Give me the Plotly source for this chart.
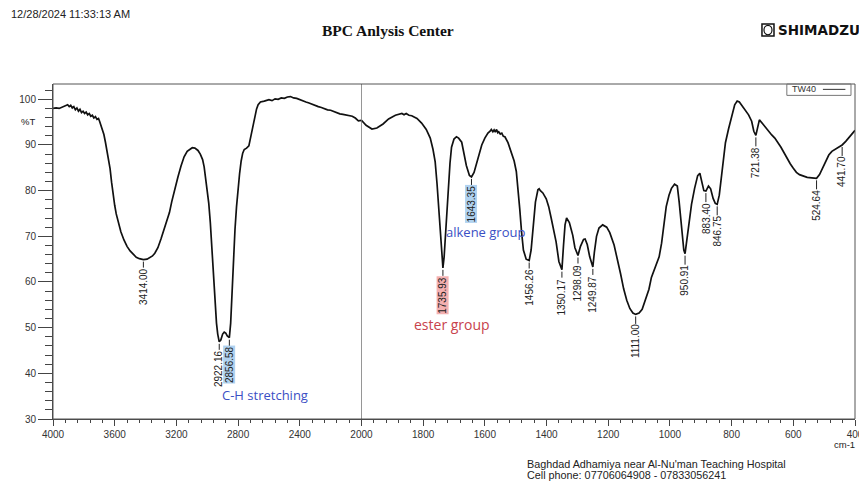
import plotly.graph_objects as go

# ---------------- spectrum (wavenumber in cm-1, transmittance in %T) ----------------
wavenumber = [
    4000, 3980, 3960, 3940, 3920, 3905, 3895, 3885, 3875, 3865, 3855, 3845, 3835, 3825,
    3815, 3805, 3795, 3785, 3775, 3765, 3755, 3745, 3735, 3725, 3715, 3705, 3698, 3690,
    3680, 3670, 3660, 3650, 3640, 3630, 3620, 3610, 3600, 3590, 3575, 3560, 3540, 3520,
    3500, 3480, 3460, 3440, 3414.00, 3390, 3370, 3355, 3340, 3320, 3300, 3280, 3260, 3245,
    3230, 3210, 3190, 3170, 3150, 3130, 3110, 3097, 3080, 3060, 3045, 3030, 3020, 3010,
    3000, 2990, 2980, 2970, 2960, 2950, 2940, 2932, 2922.16, 2912, 2900, 2890, 2880, 2870,
    2856.58, 2848, 2840, 2830, 2820, 2810, 2800, 2790, 2780, 2770, 2760, 2745, 2730, 2720,
    2710, 2700, 2690, 2680, 2670, 2655, 2630, 2600, 2580, 2560, 2540, 2520, 2500, 2480,
    2460, 2440, 2420, 2400, 2380, 2360, 2340, 2320, 2300, 2280, 2260, 2240, 2220, 2200,
    2180, 2160, 2140, 2120, 2100, 2080, 2060, 2040, 2020, 2000,
    1985, 1966, 1950, 1930, 1912, 1890, 1875, 1869, 1862, 1855, 1846, 1837, 1820, 1805,
    1790, 1777, 1768, 1761, 1755, 1750, 1745, 1740, 1735.93, 1732, 1728, 1723, 1718, 1713,
    1708, 1700, 1692, 1685, 1675, 1668, 1660, 1650, 1643.35, 1635, 1628, 1620, 1610, 1600,
    1590, 1583, 1579, 1574, 1570, 1566, 1562, 1558, 1555, 1550, 1545, 1540, 1535, 1525,
    1514, 1505, 1498, 1492, 1487, 1481, 1475, 1466, 1456.26, 1450, 1444, 1436, 1428, 1424,
    1420, 1412, 1401, 1393, 1385, 1377, 1369, 1360, 1350.17, 1345, 1340, 1335, 1330, 1326,
    1320, 1315, 1308, 1298.09, 1290, 1280, 1275, 1268, 1260, 1249.87, 1245, 1238, 1230,
    1218, 1205, 1195, 1181, 1170, 1160, 1150, 1140, 1130, 1120, 1111.00, 1100, 1090, 1080,
    1068, 1060, 1050, 1043, 1035, 1027, 1020, 1012, 1003, 995, 985, 976, 970, 962, 955,
    950.91, 945, 938, 930, 920, 910, 903, 897, 890, 883.40, 875, 868, 860, 853, 846.75,
    840, 835, 828, 820, 810, 800, 790, 782, 775, 765, 755, 745, 735, 728, 721.38, 716,
    710, 700, 690, 680, 670, 660, 650, 640, 630, 620, 610, 600, 590, 580, 568, 555, 540,
    524.64, 515, 505, 495, 485, 475, 465, 455, 441.70, 430, 420, 410, 400,
]
transmittance = [
    98.0, 98.1, 98.0, 98.3, 98.5, 98.8, 98.4, 98.7, 98.1, 98.4, 97.7, 98.1, 97.4, 97.8,
    97.1, 97.4, 96.9, 97.2, 96.6, 96.9, 96.3, 96.5, 95.9, 96.2, 95.6, 95.8, 95.2, 94.5,
    93.6, 92.3, 90.6, 88.8, 87.0, 84.8, 81.8, 79.0, 76.8, 74.9, 72.8, 71.0, 69.2, 67.8,
    66.8, 66.0, 65.4, 65.1, 64.9, 65.0, 65.3, 65.7, 66.3, 67.5, 69.4, 71.6, 73.5, 75.2,
    77.6, 80.6, 83.0, 85.4, 87.4, 88.6, 89.2, 89.4, 89.3, 88.8, 88.0, 86.8, 85.2, 82.5,
    79.6, 77.2, 73.0, 67.0, 60.5, 55.0, 51.0, 48.6, 46.9, 47.3, 48.6, 49.0, 48.8, 48.2,
    47.8, 51.0, 57.5, 65.5, 71.5, 76.5, 80.5, 83.8, 86.5, 88.2, 89.0, 89.3, 89.8, 91.5,
    93.3, 95.0, 96.6, 97.9, 98.8, 99.4, 99.6, 99.9, 99.7, 100.1, 100.0, 100.3, 100.2, 100.5,
    100.6, 100.3, 100.2, 99.9, 99.7, 99.4, 99.2, 98.9, 98.7, 98.4, 98.2, 97.9, 97.7, 97.6,
    97.3, 97.0, 96.8, 96.7, 96.6, 96.5, 96.3, 95.9, 95.3, 95.4,
    94.3, 93.5, 93.7, 94.6, 95.7, 96.5, 96.8, 96.9, 96.6, 96.9, 96.5, 96.4, 95.8, 94.8,
    93.4, 91.5, 89.0, 86.3, 81.5, 76.0, 70.5, 65.5, 63.1, 65.5, 70.0, 76.0, 81.2, 86.0,
    89.5, 91.3, 91.8, 91.5, 90.6, 88.3, 85.5, 83.3, 83.0, 84.0, 85.8, 88.0, 90.0, 91.5,
    92.6, 93.0, 93.4, 92.9, 93.3, 92.8, 93.4, 92.7, 92.9, 92.4, 92.6, 91.9, 91.8, 90.5,
    88.5, 86.5, 84.2, 80.5, 76.1, 71.0, 67.0, 65.0, 64.7, 67.0, 72.3, 77.5, 80.2, 80.4,
    80.0, 79.5, 78.2, 76.5, 74.0, 71.5, 68.8, 64.5, 62.7, 68.0, 72.5, 74.0, 73.5, 73.0,
    71.5, 70.2, 67.5, 65.8, 67.8, 69.3, 69.4, 68.2, 65.5, 63.3, 66.5, 70.0, 71.8,
    72.5, 72.0, 70.8, 68.1, 65.0, 61.8, 58.5, 56.0, 54.2, 53.2, 52.9, 53.2, 54.0, 55.8,
    58.4, 61.0, 62.8, 63.6, 65.5, 68.5, 72.5, 76.5, 79.0, 80.5, 81.4, 81.0, 77.5, 71.5, 67.0,
    66.2, 69.5, 73.5, 77.0, 80.5, 83.3, 83.8, 82.0, 80.0, 79.9, 81.0, 80.4, 78.3, 77.2, 77.0,
    79.0, 82.0, 86.8, 90.5, 93.5, 96.5, 98.8, 99.6, 99.4, 98.5, 97.5, 96.6, 95.2, 93.0, 92.1, 94.0,
    95.5, 94.7, 93.8, 93.0, 92.2, 91.5, 90.6, 89.5, 88.3, 87.0, 85.9, 84.9, 84.0, 83.5, 83.2, 82.9, 82.8,
    82.7, 83.5, 85.0, 86.5, 87.8, 88.6, 89.0, 89.5, 90.0, 90.8, 91.6, 92.5, 93.2,
]

# picked peaks
peak_wn = [3414.00, 2922.16, 2856.58, 1735.93, 1643.35, 1456.26, 1350.17, 1298.09,
           1249.87, 1111.00, 950.91, 883.40, 846.75, 721.38, 524.64, 441.70]
peak_text = ["3414.00", "2922.16", "2856.58", "1735.93", "1643.35", "1456.26", "1350.17",
             "1298.09", "1249.87", "1111.00", "950.91", "883.40", "846.75", "721.38",
             "524.64", "441.70"]
peak_highlight = {"2856.58": "rgba(150,195,235,0.75)",
                  "1643.35": "rgba(150,195,235,0.75)",
                  "1735.93": "rgba(240,150,150,0.75)"}

# functional group notes: text, wavenumber, %T
group_text = ["C-H stretching", "alkene group", "ester group"]
group_wn = [2625, 1598, 1708]
group_t = [35.3, 71.0, 50.6]
group_color = ["#3b4fc4", "#3b4fc4", "#c8424c"]
group_size = [13, 13, 14]

y_ticks = [30, 40, 50, 60, 70, 80, 90, 100]
x_ticks_high = [4000, 3600, 3200, 2800, 2400, 2000]
x_ticks_low = [1800, 1600, 1400, 1200, 1000, 800, 600, 400]

BREAK = 2000
split = 2000.0 / (2000.0 + 2 * 1600.0)   # region below 2000 cm-1 is drawn at double scale

hi = [(w, t) for w, t in zip(wavenumber, transmittance) if w >= BREAK]
lo = [(w, t) for w, t in zip(wavenumber, transmittance) if w <= BREAK]

fig = go.Figure()
line_style = dict(color="#111111", width=1.7)
fig.add_trace(go.Scatter(x=[p[0] for p in hi], y=[p[1] for p in hi], mode="lines",
                         line=line_style, xaxis="x", yaxis="y", showlegend=False,
                         name="TW40"))
fig.add_trace(go.Scatter(x=[p[0] for p in lo], y=[p[1] for p in lo], mode="lines",
                         line=line_style, xaxis="x2", yaxis="y", showlegend=False,
                         name="TW40"))

tickfont = dict(family="Liberation Sans, Arial, sans-serif", size=10, color="#333333")
axis_common = dict(showgrid=False, zeroline=False, showline=True, linecolor="#444444",
                   linewidth=1, ticks="outside", ticklen=6, tickcolor="#444444",
                   tickfont=tickfont, anchor="y", automargin=False,
                   ticklabeloverflow="allow")

annotations = []
lookup = dict(zip(wavenumber, transmittance))
for w, txt in zip(peak_wn, peak_text):
    annotations.append(dict(
        x=w, y=lookup[w], xref="x" if w >= BREAK else "x2", yref="y",
        text=txt, textangle=-90, showarrow=True, arrowhead=0, arrowwidth=1,
        arrowcolor="#222222", ax=0, ay=27, standoff=2,
        bgcolor=peak_highlight.get(txt, "rgba(0,0,0,0)"), borderpad=0,
        font=dict(family="Liberation Sans Narrow, Arial Narrow, Liberation Sans, sans-serif",
                  size=10, color="#222222"),
    ))
for txt, w, t, c, s in zip(group_text, group_wn, group_t, group_color, group_size):
    annotations.append(dict(
        x=w, y=t, xref="x" if w >= BREAK else "x2", yref="y", text=txt, showarrow=False,
        font=dict(family="Open Sans, Noto Sans, sans-serif", size=s, color=c, weight=500),
    ))

# header, axis captions and footer
def ptext(txt, x, y, size, xanchor="left", family="Liberation Sans, Arial, sans-serif",
          color="#222222"):
    return dict(text=txt, x=x, y=y, xref="paper", yref="paper", xanchor=xanchor,
                yanchor="middle", showarrow=False, font=dict(family=family, size=size,
                                                             color=color))

annotations += [
    ptext("12/28/2024 11:33:13 AM", -0.0545, 1.209, 11),
    ptext("<b>BPC Anlysis Center</b>", 0.4177, 1.161, 15.5, xanchor="center",
          family="Liberation Serif, Times New Roman, serif", color="#111111"),
    ptext("<b>SHIMADZU</b>", 0.9015, 1.161, 13.5, family="DejaVu Sans, sans-serif",
          color="#111111"),
    ptext("%T", -0.031, 0.888, 9.5, xanchor="center"),
    ptext("cm-1", 0.9865, -0.076, 9.5, xanchor="center"),
    ptext("Baghdad Adhamiya near Al-Nu'man Teaching Hospital", 0.5885, -0.134, 10.8),
    ptext("Cell phone: 07706064908 - 07833056241", 0.5885, -0.168, 10.8),
    ptext("TW40", 0.9185, 0.985, 9, color="#333333"),
]

shapes = [
    # plot frame
    dict(type="rect", xref="paper", yref="paper", x0=0, x1=1, y0=0, y1=1,
         line=dict(color="#555555", width=1)),
    # scale break at 2000 cm-1
    dict(type="line", xref="x2", yref="paper", x0=BREAK, x1=BREAK, y0=0, y1=1,
         line=dict(color="#333333", width=1)),
    # legend box and sample line
    dict(type="rect", xref="paper", yref="paper", x0=0.915, x1=0.995, y0=0.966, y1=1.0,
         line=dict(color="#777777", width=1)),
    dict(type="line", xref="paper", yref="paper", x0=0.960, x1=0.988, y0=0.984, y1=0.984,
         line=dict(color="#333333", width=1)),
    # logo mark
    dict(type="rect", xref="paper", yref="paper", x0=0.884, x1=0.899, y0=1.143, y1=1.179,
         line=dict(color="#111111", width=1.5)),
    dict(type="circle", xref="paper", yref="paper", x0=0.8865, x1=0.8965, y0=1.147,
         y1=1.175, line=dict(color="#111111", width=1.2)),
]

fig.update_layout(
    width=859, height=481,
    margin=dict(l=53, r=4, t=84, b=62),
    paper_bgcolor="white", plot_bgcolor="white",
    xaxis=dict(domain=[0, split], range=[4000, BREAK], tickvals=x_ticks_high,
               minor=dict(dtick=80, ticks="outside", ticklen=3, tickcolor="#444444"),
               **axis_common),
    xaxis2=dict(domain=[split, 1], range=[BREAK, 400], tickvals=x_ticks_low,
                minor=dict(dtick=40, ticks="outside", ticklen=3, tickcolor="#444444"),
                **axis_common),
    yaxis=dict(range=[30, 103.35], tickvals=y_ticks, showgrid=False, zeroline=False,
               showline=True, linecolor="#444444", linewidth=1, ticks="outside",
               ticklen=14, tickcolor="#444444", tickfont=tickfont, anchor="x",
               automargin=False,
               minor=dict(dtick=2, ticks="outside", ticklen=7, tickcolor="#444444")),
    annotations=annotations,
    shapes=shapes,
    showlegend=False,
)

fig.write_html("out.html")
